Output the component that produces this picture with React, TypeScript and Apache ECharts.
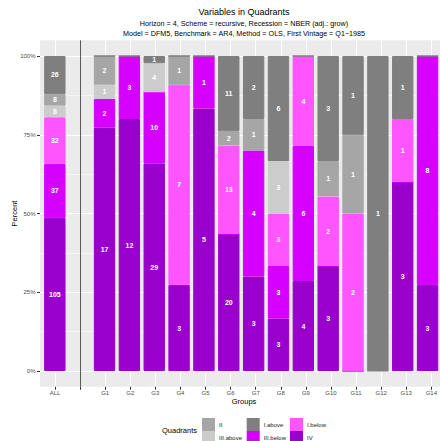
import React, { useEffect, useRef } from "react";
import * as echarts from "echarts";

const groups = ["ALL", "", "G1", "G2", "G3", "G4", "G5", "G6", "G7", "G8", "G9", "G10", "G11", "G12", "G13", "G14"];
// stacking order, bottom to top
const quadrants = ["IV", "III.below", "I.below", "III.above", "II", "I.above"];
const countsIV = [105, null, 17, 12, 29, 3, 5, 20, 3, 3, 4, 3, null, null, 3, 3];
const countsIIIbelow = [37, null, 2, 3, 10, null, 1, 0, 4, 3, 6, 0, 0, null, 0, 8];
const countsIbelow = [32, null, null, null, 0, 7, null, 13, null, 3, 4, 2, 2, null, 1, null];
const countsIIIabove = [8, null, 1, null, 4, null, null, 0, null, 3, null, 0, null, null, null, null];
const countsII = [8, null, 2, null, null, 1, null, 2, 1, null, null, 1, 1, 0, null, null];
const countsIabove = [26, null, 0, 0, 1, 0, 0, 11, 2, 6, 0, 3, 1, 1, 1, 0];
const quadrantColors = ["#9900CC", "#D500FF", "#FF55FF", "#CCCCCC", "#A6A6A6", "#7F7F7F"];
const legendColumns = [["II", "III.above"], ["I.above", "III.below"], ["I.below", "IV"]];

const FONT = "'Liberation Sans', Arial, Helvetica, sans-serif";

export default function App() {
  const ref = useRef<HTMLDivElement>(null);
  useEffect(() => {
    if (!ref.current) return;
    const chart = echarts.init(ref.current, undefined, { renderer: "svg" });
    const counts = [countsIV, countsIIIbelow, countsIbelow, countsIIIabove, countsII, countsIabove];
    const totals = groups.map((_, i) =>
      counts.reduce((s, arr) => s + (arr[i] == null ? 0 : (arr[i] as number)), 0)
    );
    const band = (432.7 - 55) / 15;
    const barSeries = quadrants.map((q, qi) => ({
      name: q,
      type: "bar",
      stack: "q",
      xAxisIndex: 0,
      yAxisIndex: 0,
      barWidth: "86%",
      emphasis: { disabled: true },
      silent: true,
      data: counts[qi].map((c, i) => (c == null || totals[i] === 0 ? null : ((c as number) / totals[i]) * 100)),
      itemStyle: { color: quadrantColors[qi], borderColor: quadrantColors[qi], borderWidth: 1 },
      label: {
        show: true,
        position: "inside",
        color: "#ffffff",
        fontSize: 7,
        fontWeight: "bold",
        fontFamily: FONT,
        formatter: (p: any) => {
          const c = counts[qi][p.dataIndex];
          return c ? String(c) : "";
        },
      },
    }));
    const legendLefts = [202, 246.7, 290];
    const legends = legendColumns.map((col, ci) => ({
      orient: "vertical",
      left: legendLefts[ci],
      top: 418,
      width: 44,
      height: 60,
      icon: "rect",
      itemWidth: 11,
      itemHeight: 11,
      itemGap: 0,
      padding: 0,
      selectedMode: false,
      textStyle: { fontSize: 6, color: "#1a1a1a", fontFamily: FONT, lineHeight: 8 },
      data: col,
    }));
    chart.setOption({
      animation: false,
      backgroundColor: "#ffffff",
      grid: [
        { left: 55 - band / 2, top: 56, width: band * 16, height: 315 },
        { left: 40, top: 56, width: 408, height: 315 },
        { left: 55, top: 40.25, width: 377.7, height: 346.5 },
      ],
      xAxis: [
        { type: "category", gridIndex: 0, data: groups, show: false },
        { type: "value", gridIndex: 1, min: 0, max: 1, show: false },
        {
          type: "value",
          gridIndex: 2,
          min: 0,
          max: 15,
          interval: 1,
          axisLine: { show: false },
          axisTick: { show: true, length: 3, lineStyle: { color: "#333333", width: 1 } },
          axisLabel: {
            fontSize: 6,
            color: "#4D4D4D",
            fontFamily: FONT,
            margin: 3,
            formatter: (v: number) => groups[Math.round(v)] ?? "",
          },
          splitLine: { show: true, lineStyle: { color: "#ffffff", width: 1 } },
        },
      ],
      yAxis: [
        { type: "value", gridIndex: 0, min: 0, max: 100, show: false },
        {
          type: "value",
          gridIndex: 1,
          min: 0,
          max: 100,
          interval: 25,
          axisLine: { show: false },
          axisTick: { show: true, length: 3, lineStyle: { color: "#333333", width: 1 } },
          axisLabel: {
            fontSize: 6,
            color: "#4D4D4D",
            fontFamily: FONT,
            margin: 4.5,
            formatter: (v: number) => v + "%",
          },
          minorTick: { show: false, splitNumber: 2 },
          minorSplitLine: { show: true, lineStyle: { color: "#ffffff", width: 0.5 } },
          splitLine: { show: true, lineStyle: { color: "#ffffff", width: 1.07 } },
        },
        { type: "value", gridIndex: 2, min: 0, max: 1, show: false },
      ],
      legend: legends,
      graphic: [
        {
          type: "rect",
          z: -10,
          silent: true,
          shape: { x: 40, y: 40.25, width: 410, height: 346.5 },
          style: { fill: "#EBEBEB" },
        },
        {
          type: "text",
          x: 244,
          y: 12.3,
          silent: true,
          style: { text: "Variables in Quadrants", fontSize: 9, fill: "#000", align: "center", verticalAlign: "middle", fontFamily: FONT },
        },
        {
          type: "text",
          x: 244,
          y: 23.5,
          silent: true,
          style: {
            text: "Horizon = 4, Scheme = recursive, Recession = NBER (adj.: grow)",
            fontSize: 7.2,
            fill: "#000",
            align: "center",
            verticalAlign: "middle",
            fontFamily: FONT,
          },
        },
        {
          type: "text",
          x: 244,
          y: 33.3,
          silent: true,
          style: {
            text: "Model = DFM5, Benchmark = AR4, Method = OLS, First Vintage = Q1\u22121985",
            fontSize: 7.2,
            fill: "#000",
            align: "center",
            verticalAlign: "middle",
            fontFamily: FONT,
          },
        },
        {
          type: "text",
          x: 14,
          y: 213.5,
          rotation: Math.PI / 2,
          silent: true,
          style: { text: "Percent", fontSize: 7.5, fill: "#000", align: "center", verticalAlign: "middle", fontFamily: FONT },
        },
        {
          type: "text",
          x: 244,
          y: 401,
          silent: true,
          style: { text: "Groups", fontSize: 7.5, fill: "#000", align: "center", verticalAlign: "middle", fontFamily: FONT },
        },
        {
          type: "text",
          x: 162,
          y: 430.5,
          silent: true,
          style: { text: "Quadrants", fontSize: 7.5, fill: "#000", align: "left", verticalAlign: "middle", fontFamily: FONT },
        },
      ],
      series: [
        ...barSeries,
        {
          type: "line",
          xAxisIndex: 2,
          yAxisIndex: 2,
          data: [],
          silent: true,
          markLine: {
            silent: true,
            symbol: ["none", "none"],
            label: { show: false },
            lineStyle: { color: "#5A5A5A", width: 1, type: "solid" },
            emphasis: { disabled: true },
            data: [{ xAxis: 1 }],
          },
        },
      ],
    });
    return () => chart.dispose();
  }, []);
  return <div ref={ref} style={{ position: "absolute", left: 0, top: 0, width: 440, height: 441 }} />;
}
